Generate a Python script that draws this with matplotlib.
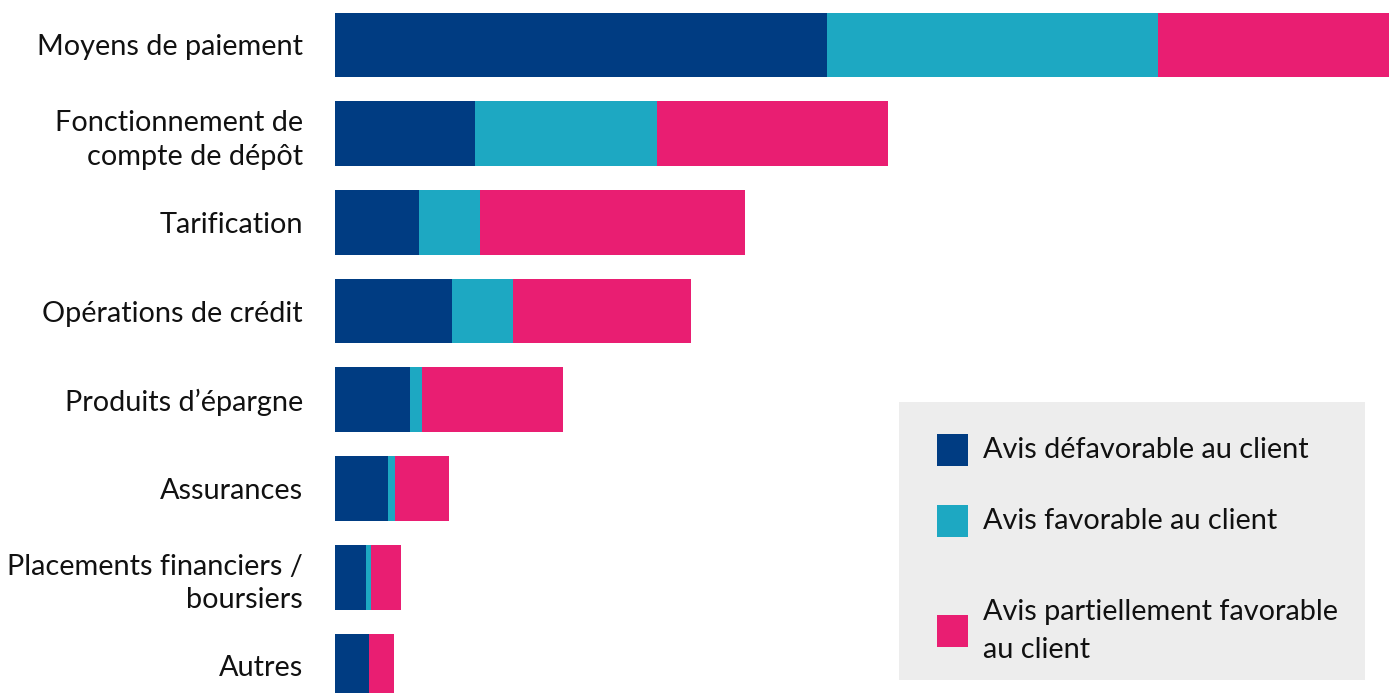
import matplotlib
matplotlib.use("Agg")
import matplotlib.pyplot as plt
from matplotlib.patches import Rectangle
import numpy as np

plt.rcParams['font.family'] = ['Lato', 'DejaVu Sans']

categories = ["Moyens de paiement", "Fonctionnement de\ncompte de dépôt", "Tarification",
              "Opérations de crédit", "Produits d’épargne", "Assurances",
              "Placements financiers /\nboursiers", "Autres"]
defavorable = [492, 140, 84, 117, 75, 53, 31, 34]
favorable = [331, 182, 61, 61, 12, 7, 5, 0]
partiel = [232, 231, 265, 178, 141, 54, 30, 25]
series_labels = ["Avis défavorable au client", "Avis favorable au client",
                 "Avis partiellement favorable\nau client"]
colors = ["#003C82", "#1DA8C2", "#E91E72"]

W, H = 1389, 693
fig = plt.figure(figsize=(W / 100, H / 100), dpi=100)
ax = fig.add_axes([335 / W, 0, 1 - 335 / W, 1])

y = np.arange(len(categories))
left = np.zeros(len(categories))
for vals, c in zip([defavorable, favorable, partiel], colors):
    ax.barh(y, vals, left=left, height=0.73, color=c, edgecolor='none')
    left += np.array(vals)

ax.set_xlim(0, 1054)
ax.set_ylim(7.305, -0.507)
ax.set_yticks(y)
ax.set_yticklabels(categories, fontsize=20.8, color='#111111', linespacing=1.35)
ax.tick_params(axis='y', length=0, pad=23)
ax.set_xticks([])
for s in ax.spines.values():
    s.set_visible(False)

# legend box
fig.patches.append(Rectangle((899 / W, 1 - 680 / H), (1365 - 899) / W, (680 - 402) / H,
                             transform=fig.transFigure, facecolor='#EDEDED',
                             edgecolor='none', zorder=3))
centers = [450, 521, 631]
for lab, c, cy in zip(series_labels, colors, centers):
    fig.patches.append(Rectangle((937 / W, 1 - (cy + 16) / H), 31 / W, 32 / H,
                                 transform=fig.transFigure, facecolor=c,
                                 edgecolor='none', zorder=4))
    fig.text(983 / W, 1 - cy / H, lab, fontsize=20.8, color='#111111', va='center',
             ha='left', linespacing=1.55, zorder=5)

fig.savefig("out.png", dpi=100)
